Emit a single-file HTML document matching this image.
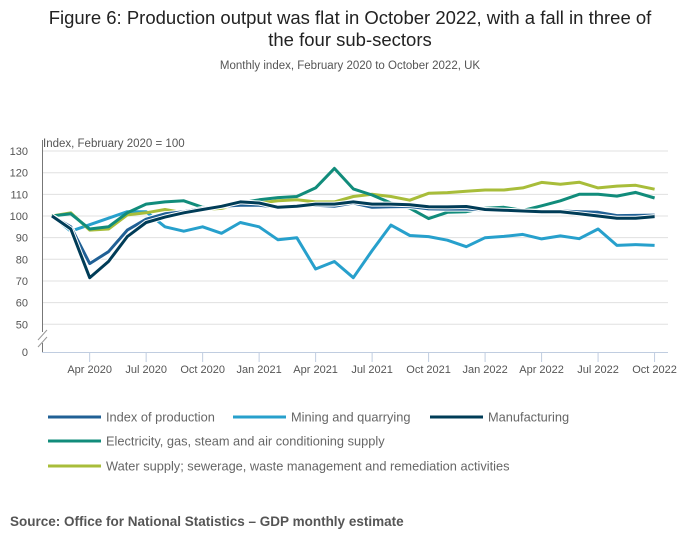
<!DOCTYPE html>
<html><head><meta charset="utf-8"><style>
body{margin:0;background:#fff;font-family:"Liberation Sans",sans-serif;}
#wrap{position:relative;width:700px;height:549px;overflow:hidden;}
</style></head><body>
<div id="wrap">
<svg id="chart" width="700" height="549" style="position:absolute;left:0;top:0">
<text x="350" y="24" text-anchor="middle" font-size="18.5" fill="#222">Figure 6: Production output was flat in October 2022, with a fall in three of</text>
<text x="350" y="46" text-anchor="middle" font-size="18.5" fill="#222">the four sub-sectors</text>
<text x="350" y="69" text-anchor="middle" font-size="11.5" fill="#555">Monthly index, February 2020 to October 2022, UK</text>
<text x="43" y="147" font-size="11.5" fill="#555">Index, February 2020 = 100</text>
<text x="10" y="526" font-size="13.5" font-weight="bold" fill="#555">Source: Office for National Statistics – GDP monthly estimate</text>
<g id="grid"></g><g id="axes"></g><g id="series"></g><g id="legend"></g>
</svg>
</div>
<script>
const months = ["Feb 2020","Mar 2020","Apr 2020","May 2020","Jun 2020","Jul 2020","Aug 2020","Sep 2020","Oct 2020","Nov 2020","Dec 2020","Jan 2021","Feb 2021","Mar 2021","Apr 2021","May 2021","Jun 2021","Jul 2021","Aug 2021","Sep 2021","Oct 2021","Nov 2021","Dec 2021","Jan 2022","Feb 2022","Mar 2022","Apr 2022","May 2022","Jun 2022","Jul 2022","Aug 2022","Sep 2022","Oct 2022"];
const indexOfProduction = [100,95,78,83.5,93.5,98.5,101,102,103.5,104.5,105,105,104,104.5,105,104.5,106,104,104.3,104.4,103.3,103.2,103.2,102.8,102.5,102.3,102.2,102.3,102,101.7,100.2,100.3,100.4];
const mining = [100,93,96,99,102,102,95,93,95,92,97,95,89,90,75.5,79,71.5,84,95.8,91,90.5,88.8,85.8,90,90.6,91.5,89.4,90.8,89.5,94,86.4,86.8,86.4];
const manufacturing = [100,94,71.5,79,90.5,97,99.5,101.5,103,104.5,106.5,106,104,104.5,105.5,105.5,106.5,105.5,105.5,105.2,104.3,104.2,104.4,103,102.7,102.3,102,102,101,100,99,99,99.7];
const electricity = [100,101,94,95,101.5,105.5,106.5,107,104,104,106,107.5,108.5,109,113,122,112.5,109.7,106,103.6,98.8,101.7,102,103.6,104,102.6,104.7,107,110,110,109.2,110.9,108.3];
const water = [100,101.5,93.5,94,100.5,101.5,103,101.5,103,103.5,105.5,106,107,107.5,106.5,106.5,109,110,109,107.3,110.5,110.8,111.4,112,112,113,115.5,114.7,115.6,113,113.8,114.2,112.4];
const yTicks = [50,60,70,80,90,100,110,120,130];
const xTickLabels = ["Apr 2020","Jul 2020","Oct 2020","Jan 2021","Apr 2021","Jul 2021","Oct 2021","Jan 2022","Apr 2022","Jul 2022","Oct 2022"];
const seriesNames = ["Index of production","Mining and quarrying","Manufacturing","Electricity, gas, steam and air conditioning supply","Water supply; sewerage, waste management and remediation activities"];

const NS="http://www.w3.org/2000/svg";
function X(i){return 52+i*18.83;}
function Y(v){return 216-(v-100)*2.165;}
function mk(tag,attrs,parent){const e=document.createElementNS(NS,tag);for(const k in attrs)e.setAttribute(k,attrs[k]);parent.appendChild(e);return e;}
const grid=document.getElementById('grid'),axes=document.getElementById('axes'),ser=document.getElementById('series'),leg=document.getElementById('legend');
yTicks.forEach(v=>{
  const l=mk('line',{x1:42,x2:668,y1:Y(v),y2:Y(v),stroke:'#e0e0e0','stroke-width':1},grid);
  
  
  const t=mk('text',{x:28,y:Y(v)+4,'text-anchor':'end','font-size':11,fill:'#555'},axes);
  t.textContent=v;
  
  
});
const z=mk('text',{x:28,y:356,'text-anchor':'end','font-size':11,fill:'#555'},axes);z.textContent='0';


const ya=mk('path',{d:'M42.5 140 V332 M42.5 343 V352',stroke:'#777',fill:'none'},axes);


const br=mk('path',{d:'M38 340 L47 330 M38 347 L47 337',stroke:'#999',fill:'none'},axes);


const xa=mk('line',{x1:42,x2:668,y1:352.5,y2:352.5,stroke:'#c0cde0'},axes);


xTickLabels.forEach((lab,k)=>{
  const i=2+k*3;
  const tk=mk('line',{x1:X(i),x2:X(i),y1:352,y2:362,stroke:'#c0cde0'},axes);
  
  
  const t=mk('text',{x:X(i),y:373,'text-anchor':'middle','font-size':11,fill:'#555'},axes);
  t.textContent=lab;
  
  
});
const colors=["#206095","#27a0cc","#003c57","#118c7b","#a8bd3a"];
const data=[indexOfProduction,mining,manufacturing,electricity,water];
const order=[1,4,3,0,2];
order.forEach(s=>{
  const d=data[s].map((v,i)=>(i?'L':'M')+X(i).toFixed(1)+' '+Y(v).toFixed(1)).join(' ');
  if(s===2||s===0){const h=mk('path',{d:d,stroke:'#fff','stroke-width':5,fill:'none','stroke-linejoin':'round'},ser);
    
    }
  const p=mk('path',{d:d,stroke:colors[s],'stroke-width':3,fill:'none','stroke-linejoin':'round'},ser);
  
  
});
const legPos=[[48,417],[233,417],[430,417],[48,441],[48,466]];
seriesNames.forEach((n,s)=>{
  const g=mk('g',{},leg);
  
  
  const [x,y]=legPos[s];
  mk('line',{x1:x,x2:x+53,y1:y,y2:y,stroke:colors[s],'stroke-width':3},g);
  const t=mk('text',{x:x+58,y:y+4.5,'font-size':12.8,fill:'#666'},g);t.textContent=n;
});
</script>
</body></html>
